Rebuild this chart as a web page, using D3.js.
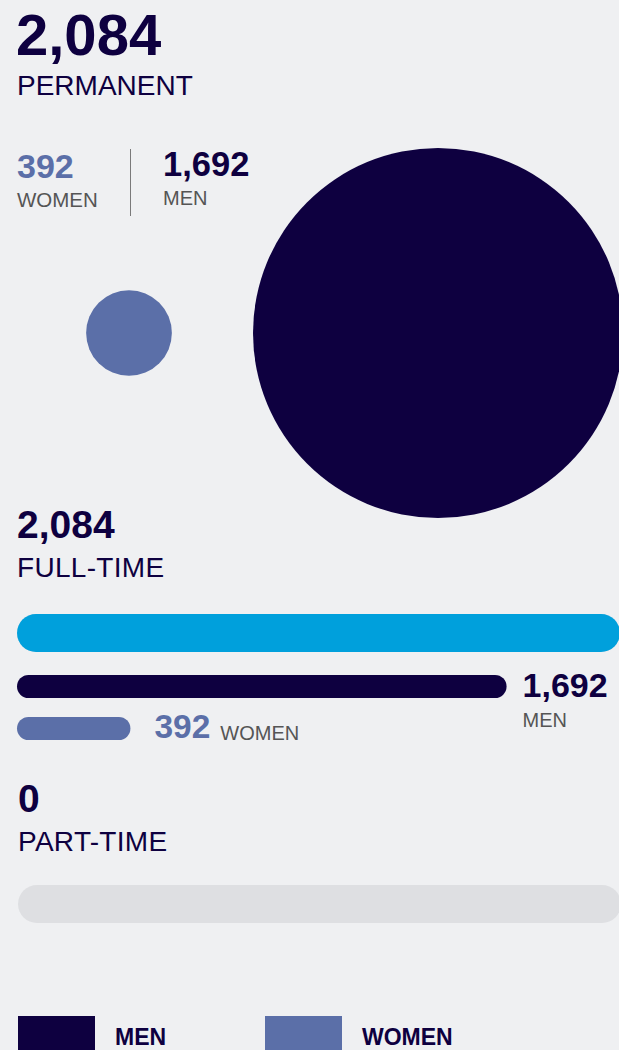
<!DOCTYPE html>
<html>
<head>
<meta charset="utf-8">
<script src="https://cdn.jsdelivr.net/npm/d3@7"></script>
<style>
  body { margin: 0; background: #eff0f2; }
  svg { display: block; font-family: "Liberation Sans", Arial, sans-serif; }
</style>
</head>
<body>
<div id="chart"></div>
<script>
// data
const genders = ['WOMEN', 'MEN']
const permanent = [392, 1692]
const fullTime = [392, 1692]
const partTime = [0, 0]
const legendLabels = ['MEN', 'WOMEN']

const navy = '#0e0040'
const womenBlue = '#5b6fa8'
const grey = '#555555'
const fmt = d3.format(',')

const svg = d3.select('#chart').append('svg')
    .attr('width', 619)
    .attr('height', 1050)

svg.append('rect')
    .attr('width', 619)
    .attr('height', 1050)
    .attr('fill', '#eff0f2')

// ---- permanent headline
let permGroup = svg.append('g').attr('id', 'permanent')
permGroup.append('text')
    .attr('x', 16).attr('y', 55)
    .text(fmt(d3.sum(permanent)))
    .style('font-size', '58px')
    .style('font-weight', 'bold')
    .attr('fill', navy)
permGroup.append('text')
    .attr('x', 17).attr('y', 95)
    .text('PERMANENT')
    .style('font-size', '28px')
    .attr('fill', navy)

// women / men split
permGroup.append('text')
    .attr('x', 17).attr('y', 178)
    .text(fmt(permanent[0]))
    .style('font-size', '34px')
    .style('font-weight', 'bold')
    .attr('fill', womenBlue)
permGroup.append('text')
    .attr('x', 17).attr('y', 207)
    .text('WOMEN')
    .style('font-size', '20.5px')
    .attr('fill', grey)
permGroup.append('line')
    .attr('x1', 130.5).attr('x2', 130.5)
    .attr('y1', 149).attr('y2', 216)
    .style('stroke', '#7a7a7a')
    .style('stroke-width', 1)
permGroup.append('text')
    .attr('x', 163).attr('y', 176)
    .text(fmt(permanent[1]))
    .style('font-size', '34.5px')
    .style('font-weight', 'bold')
    .attr('fill', navy)
permGroup.append('text')
    .attr('x', 163).attr('y', 205)
    .text('MEN')
    .style('font-size', '20px')
    .attr('fill', grey)

// bubbles, radius proportional to value
const rScale = d3.scaleLinear()
    .domain([0, d3.max(permanent)])
    .range([0, 185])
const bubbleX = [129, 438]
permGroup.selectAll('circle.bubble')
    .data(permanent)
    .join('circle')
    .attr('class', 'bubble')
    .attr('cx', (d, i) => bubbleX[i])
    .attr('cy', 333)
    .attr('r', d => rScale(d))
    .attr('fill', (d, i) => genders[i] == 'MEN' ? navy : womenBlue)

// ---- bars
const xScale = d3.scaleLinear()
    .domain([0, d3.sum(fullTime)])
    .range([0, 603])

function drawSection (values, title, top, left, trackTop, totalColor) {
    let g = svg.append('g').attr('transform', 'translate(' + left + ',' + top + ')')
    let total = d3.sum(values)
    g.append('text')
        .attr('x', 0).attr('y', 0)
        .text(fmt(total))
        .style('font-size', '39px')
        .style('font-weight', 'bold')
        .attr('fill', navy)
    g.append('text')
        .attr('x', 0).attr('y', 39)
        .text(title)
        .style('font-size', '28px')
        .style('letter-spacing', '0.3px')
        .attr('fill', navy)
    // track
    g.append('rect')
        .attr('y', trackTop).attr('height', 38).attr('rx', 19)
        .attr('width', xScale.range()[1])
        .attr('fill', '#dedfe2')
    if (total > 0) {
        g.append('rect')
            .attr('y', trackTop).attr('height', 38).attr('rx', 19)
            .attr('width', xScale(total))
            .attr('fill', totalColor)
    }
    return g
}

let ft = drawSection(fullTime, 'FULL-TIME', 538, 17, 76, '#00a0dc')
// men bar
ft.append('rect')
    .attr('y', 137).attr('height', 23).attr('rx', 11.5)
    .attr('width', xScale(fullTime[1]))
    .attr('fill', navy)
ft.append('text')
    .attr('x', xScale(fullTime[1]) + 16).attr('y', 159)
    .text(fmt(fullTime[1]))
    .style('font-size', '34px')
    .style('font-weight', 'bold')
    .attr('fill', navy)
ft.append('text')
    .attr('x', xScale(fullTime[1]) + 16).attr('y', 189)
    .text('MEN')
    .style('font-size', '20px')
    .attr('fill', grey)
// women bar
ft.append('rect')
    .attr('y', 179).attr('height', 23).attr('rx', 11.5)
    .attr('width', xScale(fullTime[0]))
    .attr('fill', womenBlue)
let wNum = ft.append('text')
    .attr('x', xScale(fullTime[0]) + 24).attr('y', 200)
    .text(fmt(fullTime[0]))
    .style('font-size', '33.5px')
    .style('font-weight', 'bold')
    .attr('fill', womenBlue)
ft.append('text')
    .attr('x', xScale(fullTime[0]) + 24 + wNum.node().getComputedTextLength() + 10)
    .attr('y', 202)
    .text('WOMEN')
    .style('font-size', '20px')
    .attr('fill', grey)

drawSection(partTime, 'PART-TIME', 812, 18, 73, '#00a0dc')

// ---- legend
const legendX = [18, 265]
let legend = svg.append('g').attr('id', 'legend')
legend.selectAll('rect')
    .data(legendLabels)
    .join('rect')
    .attr('x', (d, i) => legendX[i])
    .attr('y', 1016)
    .attr('width', 77)
    .attr('height', 40)
    .attr('fill', d => d == 'MEN' ? navy : womenBlue)
legend.selectAll('text')
    .data(legendLabels)
    .join('text')
    .attr('x', (d, i) => legendX[i] + 97)
    .attr('y', 1045)
    .text(d => d)
    .style('font-size', '23px')
    .style('font-weight', 'bold')
    .attr('fill', navy)
</script>
</body>
</html>
